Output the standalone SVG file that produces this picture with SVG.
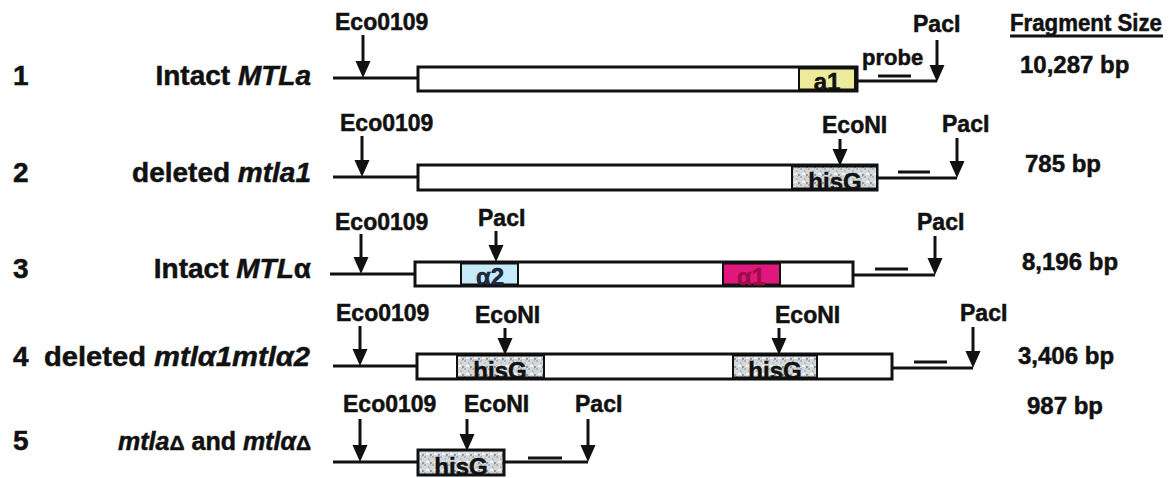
<svg xmlns="http://www.w3.org/2000/svg" width="1173" height="478" viewBox="0 0 1173 478">
  <defs>
    <style>
      text { font-family: "Liberation Sans", Arial, sans-serif; font-weight: bold; fill: #111; stroke: #111; stroke-width: 0.5; }
      .site { font-size: 23px; }
      .row { font-size: 28px; }
      .size { font-size: 24px; }
      .gene { font-size: 24px; text-anchor: middle; }
      .it { font-style: italic; }
      .dna { stroke: #111; stroke-width: 3; fill: none; }
      .box { stroke: #111; stroke-width: 3; fill: #fff; }
      .probe { stroke: #111; stroke-width: 3; }
      .cut { stroke: #111; stroke-width: 3; fill: none; marker-end: url(#head); }
    </style>
    <marker id="head" markerUnits="userSpaceOnUse" markerWidth="17" markerHeight="16" refX="9" refY="7.5" orient="auto">
      <path d="M0,0 L17,7.5 L0,15 Z" fill="#111"/>
    </marker>
    <!-- speckled fill for the hisG insert -->
    <pattern id="mottle" width="8" height="8" patternUnits="userSpaceOnUse">
      <rect width="8" height="8" fill="#d4d8da"/>
      <rect x="0" y="0" width="2" height="2" fill="#a8b6c6"/>
      <rect x="4" y="2" width="2" height="2" fill="#c9bfa4"/>
      <rect x="2" y="5" width="3" height="2" fill="#f4f4f4"/>
      <rect x="6" y="6" width="2" height="2" fill="#8d9cab"/>
      <rect x="5" y="0" width="2" height="1" fill="#b9c7d4"/>
    </pattern>
  </defs>

  <rect width="1173" height="478" fill="#fff"/>

  <!-- column heading -->
  <g id="heading">
    <text x="1010" y="31" style="font-size:23px" textLength="152" lengthAdjust="spacingAndGlyphs">Fragment Size</text>
    <line x1="1010" y1="36" x2="1163" y2="36" stroke="#111" stroke-width="3"/>
  </g>

  <!-- 1: intact MTLa -->
  <g id="row1">
    <text class="row" x="13" y="85">1</text>
    <text class="row" x="311" y="85" text-anchor="end">Intact <tspan class="it">MTLa</tspan></text>
    <line class="dna" x1="333" y1="78" x2="418" y2="78"/>
    <line class="dna" x1="857" y1="81" x2="937" y2="81"/>
    <rect class="box" x="418" y="67" width="439" height="24"/>
    <rect x="799" y="68.5" width="56" height="21" fill="#ecec9c" stroke="#111" stroke-width="2"/>
    <text class="gene" x="827" y="90">a1</text>
    <text x="862" y="65" style="font-size:22px">probe</text>
    <line class="probe" x1="878" y1="76" x2="911" y2="76"/>
    <text class="site" x="335" y="30">Eco0109</text>
    <text class="site" x="913" y="32">PacI</text>
    <text class="size" x="1020" y="73">10,287 bp</text>
  </g>

  <!-- 2: deleted mtla1 -->
  <g id="row2">
    <text class="row" x="13" y="182">2</text>
    <text class="row" x="311" y="182" text-anchor="end">deleted <tspan class="it">mtla1</tspan></text>
    <line class="dna" x1="333" y1="177" x2="418" y2="177"/>
    <line class="dna" x1="877" y1="178" x2="957" y2="178"/>
    <rect class="box" x="418" y="165" width="459" height="25"/>
    <rect x="792" y="166.5" width="85" height="22" fill="url(#mottle)" stroke="#111" stroke-width="2"/>
    <text class="gene" x="835" y="190">hisG</text>
    <line class="probe" x1="898" y1="172" x2="930" y2="172"/>
    <text class="site" x="340" y="131">Eco0109</text>
    <text class="site" x="822" y="133">EcoNI</text>
    <text class="site" x="942" y="132">PacI</text>
    <text class="size" x="1025" y="172">785 bp</text>
  </g>

  <!-- 3: intact MTLalpha -->
  <g id="row3">
    <text class="row" x="13" y="278">3</text>
    <text class="row" x="311" y="278" text-anchor="end">Intact <tspan class="it">MTL</tspan>α</text>
    <line class="dna" x1="330" y1="274" x2="415" y2="274"/>
    <line class="dna" x1="853" y1="275" x2="935" y2="275"/>
    <rect class="box" x="415" y="262" width="438" height="24"/>
    <rect x="461" y="263.5" width="57" height="21" fill="#c6eaf8" stroke="#111" stroke-width="2"/>
    <text class="gene" x="490" y="285" style="fill:#1a2a4a">α2</text>
    <rect x="723" y="263.5" width="57" height="21" fill="#e0187e" stroke="#111" stroke-width="2"/>
    <text class="gene" x="751" y="285" style="fill:#9c0c48;stroke:#9c0c48">α1</text>
    <line class="probe" x1="875" y1="269" x2="908" y2="269"/>
    <text class="site" x="335" y="230">Eco0109</text>
    <text class="site" x="478" y="226">PacI</text>
    <text class="site" x="917" y="230">PacI</text>
    <text class="size" x="1022" y="270">8,196 bp</text>
  </g>

  <!-- 4: deleted mtlalpha1 mtlalpha2 -->
  <g id="row4">
    <text class="row" x="13" y="366">4</text>
    <text class="row" x="44" y="366" textLength="266" lengthAdjust="spacingAndGlyphs">deleted <tspan class="it">mtlα1mtlα2</tspan></text>
    <line class="dna" x1="333" y1="366" x2="417" y2="366"/>
    <line class="dna" x1="892" y1="368" x2="973" y2="368"/>
    <rect class="box" x="417" y="354" width="475" height="25"/>
    <rect x="457" y="355.5" width="87" height="22" fill="url(#mottle)" stroke="#111" stroke-width="2"/>
    <text class="gene" x="500" y="379">hisG</text>
    <rect x="733" y="355.5" width="84" height="22" fill="url(#mottle)" stroke="#111" stroke-width="2"/>
    <text class="gene" x="775" y="379">hisG</text>
    <line class="probe" x1="914" y1="362" x2="947" y2="362"/>
    <text class="site" x="336" y="321">Eco0109</text>
    <text class="site" x="475" y="323">EcoNI</text>
    <text class="site" x="775" y="323">EcoNI</text>
    <text class="site" x="960" y="321">PacI</text>
    <text class="size" x="1018" y="364">3,406 bp</text>
  </g>

  <!-- 5: mtla deletion and mtlalpha deletion -->
  <g id="row5">
    <text class="row" x="13" y="450">5</text>
    <text x="311" y="450" text-anchor="end" style="font-size:25px"><tspan class="it">mtla</tspan><tspan style="font-size:21px">Δ</tspan> and <tspan class="it">mtlα</tspan><tspan style="font-size:21px">Δ</tspan></text>
    <line class="dna" x1="333" y1="462" x2="418" y2="462"/>
    <line class="dna" x1="504" y1="462" x2="588" y2="462"/>
    <rect x="418" y="450" width="86" height="25" fill="url(#mottle)" stroke="#111" stroke-width="3"/>
    <text class="gene" x="461" y="475">hisG</text>
    <line class="probe" x1="528" y1="458" x2="562" y2="458"/>
    <text class="site" x="343" y="412">Eco0109</text>
    <text class="site" x="464" y="412">EcoNI</text>
    <text class="site" x="575" y="412">PacI</text>
    <text class="size" x="1027" y="414">987 bp</text>
  </g>

  <!-- restriction-site arrows -->
  <g id="connectors">
    <path class="cut" d="M363,35 V70"/>
    <path class="cut" d="M937,40 V74"/>
    <path class="cut" d="M362,136 V169"/>
    <path class="cut" d="M840,139 V158"/>
    <path class="cut" d="M957,138 V170"/>
    <path class="cut" d="M361,234 V266"/>
    <path class="cut" d="M496,231 V254"/>
    <path class="cut" d="M935,236 V267"/>
    <path class="cut" d="M360,326 V358"/>
    <path class="cut" d="M505,328 V347"/>
    <path class="cut" d="M779,328 V347"/>
    <path class="cut" d="M973,327 V360"/>
    <path class="cut" d="M360,419 V454"/>
    <path class="cut" d="M467,419 V443"/>
    <path class="cut" d="M588,419 V454"/>
  </g>
</svg>
